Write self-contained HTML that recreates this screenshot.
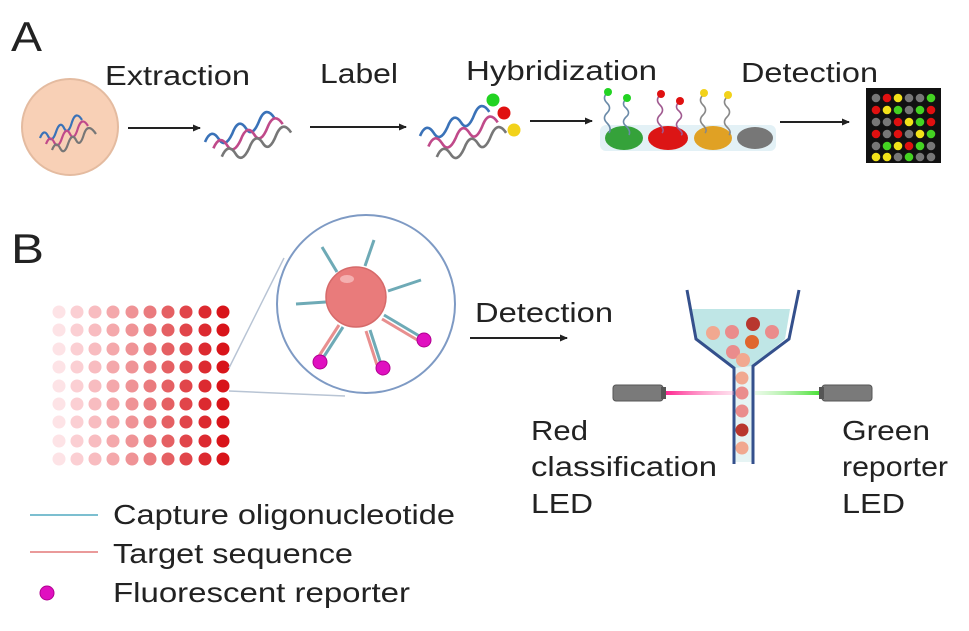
<!DOCTYPE html>
<html><head><meta charset="utf-8"><style>
html,body{margin:0;padding:0;background:#fff}
svg{display:block}
text{font-family:"Liberation Sans",Arial,sans-serif;fill:#222}
</style></head><body>
<svg width="969" height="631" viewBox="0 0 969 631" xmlns="http://www.w3.org/2000/svg">
<defs>
<marker id="ah" markerWidth="8" markerHeight="8" refX="7" refY="4" orient="auto" markerUnits="userSpaceOnUse"><path d="M0,0.5 L8,4 L0,7.5 z" fill="#222"/></marker>
<linearGradient id="lr" x1="0" x2="1"><stop offset="0" stop-color="#ff1e8c"/><stop offset="1" stop-color="#ff9ac8" stop-opacity="0.3"/></linearGradient>
<linearGradient id="lg" x1="0" x2="1"><stop offset="0" stop-color="#b8f0b0" stop-opacity="0.3"/><stop offset="1" stop-color="#44e030"/></linearGradient>
</defs>
<!-- Panel A -->
<text x="11" y="51" font-size="42" textLength="31" lengthAdjust="spacingAndGlyphs">A</text>
<text x="105" y="85" font-size="28" textLength="145" lengthAdjust="spacingAndGlyphs">Extraction</text>
<text x="320" y="83" font-size="28" textLength="78" lengthAdjust="spacingAndGlyphs">Label</text>
<text x="466" y="80" font-size="28" textLength="191" lengthAdjust="spacingAndGlyphs">Hybridization</text>
<text x="741" y="82" font-size="28" textLength="137" lengthAdjust="spacingAndGlyphs">Detection</text>

<circle cx="70" cy="127" r="48" fill="#f8d0b6" stroke="#e4bba0" stroke-width="2"/>
<g fill="none" stroke-width="2.2">
<path d="M40,138 q4,-10 8,-2 q4,8 8,-4 q4,-12 8,-4 q4,8 8,-6 q4,-12 10,-2" stroke="#3a72b8"/>
<path d="M46,144 q4,-10 8,-2 q4,8 8,-4 q4,-12 8,-4 q4,8 8,-6 q4,-12 10,-2" stroke="#c04a8a"/>
<path d="M52,150 q4,-10 8,-2 q4,8 8,-4 q4,-12 8,-4 q4,8 8,-6 q4,-12 12,0" stroke="#777"/>
</g>
<line x1="128" y1="128" x2="200" y2="128" stroke="#222" stroke-width="2" marker-end="url(#ah)"/>
<g fill="none" stroke-width="2.5" transform="translate(205,100) scale(1.05)">
<path d="M0,40 q6,-14 13,-3 q6,10 13,-5 q6,-16 13,-5 q6,10 13,-8 q6,-14 14,-2" stroke="#3a72b8"/>
<path d="M8,46 q6,-14 13,-3 q6,10 13,-5 q6,-16 13,-5 q6,10 13,-8 q6,-14 14,-2" stroke="#c04a8a"/>
<path d="M16,54 q6,-14 13,-3 q6,10 13,-5 q6,-16 13,-5 q6,10 13,-8 q6,-14 14,-2" stroke="#777"/>
</g>
<line x1="310" y1="127" x2="406" y2="127" stroke="#222" stroke-width="2" marker-end="url(#ah)"/>
<g fill="none" stroke-width="2.5" transform="translate(420,94) scale(1.05)">
<path d="M0,40 q6,-14 13,-3 q6,10 13,-5 q6,-16 13,-5 q6,10 13,-8 q6,-14 14,-2" stroke="#3a72b8"/>
<path d="M8,50 q6,-14 13,-3 q6,10 13,-5 q6,-16 13,-5 q6,10 13,-8 q6,-14 14,-2" stroke="#c04a8a"/>
<path d="M16,60 q6,-14 13,-3 q6,10 13,-5 q6,-16 13,-5 q6,10 13,-8 q6,-14 14,-2" stroke="#777"/>
</g>
<circle cx="493" cy="100" r="6.5" fill="#22d322"/>
<circle cx="504" cy="113" r="6.5" fill="#e01010"/>
<circle cx="514" cy="130" r="6.5" fill="#f2d21a"/>
<line x1="530" y1="121" x2="592" y2="121" stroke="#222" stroke-width="2" marker-end="url(#ah)"/>
<rect x="600" y="125" width="176" height="26" rx="6" fill="#e3f1f6"/>
<ellipse cx="624" cy="138" rx="19" ry="12" fill="#35a23a"/>
<ellipse cx="668" cy="138" rx="20" ry="12" fill="#dc1515"/>
<ellipse cx="713" cy="138" rx="19" ry="12" fill="#e0a124"/>
<ellipse cx="755" cy="138" rx="18" ry="11" fill="#777"/>
<g fill="none" stroke-width="1.6">
<path d="M607,93 q-5,5 0,10 q5,5 0,10 q-5,5 0,10 q5,5 2,10" stroke="#6a8aa8"/>
<path d="M626,99 q-5,5 0,9 q5,5 0,9 q-5,5 0,9 q5,5 3,9" stroke="#6a8aa8"/>
<path d="M660,95 q-5,5 0,10 q5,5 0,10 q-5,5 0,10 q5,5 2,8" stroke="#a05a90"/>
<path d="M679,102 q-5,5 0,9 q5,5 0,9 q-5,5 0,9 q5,5 2,6" stroke="#a05a90"/>
<path d="M703,95 q-5,5 0,10 q5,5 0,10 q-5,5 0,10 q5,5 2,8" stroke="#888"/>
<path d="M727,97 q-5,5 0,10 q5,5 0,10 q-5,5 0,10 q5,5 2,8" stroke="#888"/>
</g>
<circle cx="608" cy="92" r="4" fill="#22d322"/><circle cx="627" cy="98" r="4" fill="#22d322"/>
<circle cx="661" cy="94" r="4" fill="#e01010"/><circle cx="680" cy="101" r="4" fill="#e01010"/>
<circle cx="704" cy="93" r="4" fill="#f2d21a"/><circle cx="728" cy="95" r="4" fill="#f2d21a"/>
<line x1="780" y1="122" x2="849" y2="122" stroke="#222" stroke-width="2" marker-end="url(#ah)"/>
<rect x="866" y="88" width="75" height="75" fill="#111"/>
<g>
<circle cx="876" cy="98" r="4.3" fill="#777"/><circle cx="887" cy="98" r="4.3" fill="#e01010"/><circle cx="898" cy="98" r="4.3" fill="#f2e21a"/><circle cx="909" cy="98" r="4.3" fill="#777"/><circle cx="920" cy="98" r="4.3" fill="#777"/><circle cx="931" cy="98" r="4.3" fill="#44d322"/>
<circle cx="876" cy="110" r="4.3" fill="#e01010"/><circle cx="887" cy="110" r="4.3" fill="#f2e21a"/><circle cx="898" cy="110" r="4.3" fill="#44d322"/><circle cx="909" cy="110" r="4.3" fill="#777"/><circle cx="920" cy="110" r="4.3" fill="#44d322"/><circle cx="931" cy="110" r="4.3" fill="#e01010"/>
<circle cx="876" cy="122" r="4.3" fill="#777"/><circle cx="887" cy="122" r="4.3" fill="#777"/><circle cx="898" cy="122" r="4.3" fill="#e01010"/><circle cx="909" cy="122" r="4.3" fill="#f2e21a"/><circle cx="920" cy="122" r="4.3" fill="#44d322"/><circle cx="931" cy="122" r="4.3" fill="#e01010"/>
<circle cx="876" cy="134" r="4.3" fill="#e01010"/><circle cx="887" cy="134" r="4.3" fill="#777"/><circle cx="898" cy="134" r="4.3" fill="#e01010"/><circle cx="909" cy="134" r="4.3" fill="#777"/><circle cx="920" cy="134" r="4.3" fill="#f2e21a"/><circle cx="931" cy="134" r="4.3" fill="#44d322"/>
<circle cx="876" cy="146" r="4.3" fill="#777"/><circle cx="887" cy="146" r="4.3" fill="#44d322"/><circle cx="898" cy="146" r="4.3" fill="#f2e21a"/><circle cx="909" cy="146" r="4.3" fill="#e01010"/><circle cx="920" cy="146" r="4.3" fill="#44d322"/><circle cx="931" cy="146" r="4.3" fill="#777"/>
<circle cx="876" cy="157" r="4.3" fill="#f2e21a"/><circle cx="887" cy="157" r="4.3" fill="#f2e21a"/><circle cx="898" cy="157" r="4.3" fill="#777"/><circle cx="909" cy="157" r="4.3" fill="#44d322"/><circle cx="920" cy="157" r="4.3" fill="#777"/><circle cx="931" cy="157" r="4.3" fill="#777"/>
</g>

<!-- Panel B -->
<text x="11" y="263" font-size="42" textLength="33" lengthAdjust="spacingAndGlyphs">B</text>
<g>
<g fill="#fde3e6"><circle cx="59" cy="312" r="6.5"/><circle cx="59" cy="330" r="6.5"/><circle cx="59" cy="349" r="6.5"/><circle cx="59" cy="367" r="6.5"/><circle cx="59" cy="386" r="6.5"/><circle cx="59" cy="404" r="6.5"/><circle cx="59" cy="422" r="6.5"/><circle cx="59" cy="441" r="6.5"/><circle cx="59" cy="459" r="6.5"/></g>
<g fill="#fbcfd3"><circle cx="77" cy="312" r="6.5"/><circle cx="77" cy="330" r="6.5"/><circle cx="77" cy="349" r="6.5"/><circle cx="77" cy="367" r="6.5"/><circle cx="77" cy="386" r="6.5"/><circle cx="77" cy="404" r="6.5"/><circle cx="77" cy="422" r="6.5"/><circle cx="77" cy="441" r="6.5"/><circle cx="77" cy="459" r="6.5"/></g>
<g fill="#f8bcc0"><circle cx="95" cy="312" r="6.5"/><circle cx="95" cy="330" r="6.5"/><circle cx="95" cy="349" r="6.5"/><circle cx="95" cy="367" r="6.5"/><circle cx="95" cy="386" r="6.5"/><circle cx="95" cy="404" r="6.5"/><circle cx="95" cy="422" r="6.5"/><circle cx="95" cy="441" r="6.5"/><circle cx="95" cy="459" r="6.5"/></g>
<g fill="#f4a8ab"><circle cx="113" cy="312" r="6.5"/><circle cx="113" cy="330" r="6.5"/><circle cx="113" cy="349" r="6.5"/><circle cx="113" cy="367" r="6.5"/><circle cx="113" cy="386" r="6.5"/><circle cx="113" cy="404" r="6.5"/><circle cx="113" cy="422" r="6.5"/><circle cx="113" cy="441" r="6.5"/><circle cx="113" cy="459" r="6.5"/></g>
<g fill="#ef9396"><circle cx="132" cy="312" r="6.5"/><circle cx="132" cy="330" r="6.5"/><circle cx="132" cy="349" r="6.5"/><circle cx="132" cy="367" r="6.5"/><circle cx="132" cy="386" r="6.5"/><circle cx="132" cy="404" r="6.5"/><circle cx="132" cy="422" r="6.5"/><circle cx="132" cy="441" r="6.5"/><circle cx="132" cy="459" r="6.5"/></g>
<g fill="#ea7b7e"><circle cx="150" cy="312" r="6.5"/><circle cx="150" cy="330" r="6.5"/><circle cx="150" cy="349" r="6.5"/><circle cx="150" cy="367" r="6.5"/><circle cx="150" cy="386" r="6.5"/><circle cx="150" cy="404" r="6.5"/><circle cx="150" cy="422" r="6.5"/><circle cx="150" cy="441" r="6.5"/><circle cx="150" cy="459" r="6.5"/></g>
<g fill="#e56063"><circle cx="168" cy="312" r="6.5"/><circle cx="168" cy="330" r="6.5"/><circle cx="168" cy="349" r="6.5"/><circle cx="168" cy="367" r="6.5"/><circle cx="168" cy="386" r="6.5"/><circle cx="168" cy="404" r="6.5"/><circle cx="168" cy="422" r="6.5"/><circle cx="168" cy="441" r="6.5"/><circle cx="168" cy="459" r="6.5"/></g>
<g fill="#e1454a"><circle cx="186" cy="312" r="6.5"/><circle cx="186" cy="330" r="6.5"/><circle cx="186" cy="349" r="6.5"/><circle cx="186" cy="367" r="6.5"/><circle cx="186" cy="386" r="6.5"/><circle cx="186" cy="404" r="6.5"/><circle cx="186" cy="422" r="6.5"/><circle cx="186" cy="441" r="6.5"/><circle cx="186" cy="459" r="6.5"/></g>
<g fill="#dc2a30"><circle cx="205" cy="312" r="6.5"/><circle cx="205" cy="330" r="6.5"/><circle cx="205" cy="349" r="6.5"/><circle cx="205" cy="367" r="6.5"/><circle cx="205" cy="386" r="6.5"/><circle cx="205" cy="404" r="6.5"/><circle cx="205" cy="422" r="6.5"/><circle cx="205" cy="441" r="6.5"/><circle cx="205" cy="459" r="6.5"/></g>
<g fill="#d8141a"><circle cx="223" cy="312" r="6.5"/><circle cx="223" cy="330" r="6.5"/><circle cx="223" cy="349" r="6.5"/><circle cx="223" cy="367" r="6.5"/><circle cx="223" cy="386" r="6.5"/><circle cx="223" cy="404" r="6.5"/><circle cx="223" cy="422" r="6.5"/><circle cx="223" cy="441" r="6.5"/><circle cx="223" cy="459" r="6.5"/></g>
</g>
<line x1="229" y1="368" x2="284" y2="258" stroke="#b8c4d4" stroke-width="1.5"/>
<line x1="229" y1="391" x2="345" y2="396" stroke="#b8c4d4" stroke-width="1.5"/>
<circle cx="366" cy="304" r="89" fill="#fff" stroke="#7e9ac4" stroke-width="2"/>
<g stroke="#6eaab6" stroke-width="3">
<line x1="337" y1="272" x2="322" y2="247"/><line x1="365" y1="266" x2="374" y2="240"/>
<line x1="388" y1="291" x2="421" y2="280"/><line x1="326" y1="302" x2="296" y2="304"/>
</g>
<g stroke-width="3">
<line x1="384" y1="315" x2="421" y2="337" stroke="#6eaab6"/><line x1="382" y1="319" x2="419" y2="341" stroke="#e88f8f"/>
<line x1="343" y1="327" x2="323" y2="358" stroke="#6eaab6"/><line x1="339" y1="325" x2="319" y2="356" stroke="#e88f8f"/>
<line x1="370" y1="330" x2="381" y2="364" stroke="#6eaab6"/><line x1="366" y1="331" x2="377" y2="365" stroke="#e88f8f"/>
</g>
<circle cx="356" cy="297" r="30" fill="#e97b7b" stroke="#d66a6a" stroke-width="1.5"/>
<ellipse cx="347" cy="279" rx="7" ry="4" fill="#f4b0b0"/>
<circle cx="320" cy="362" r="7" fill="#e010c0" stroke="#b00090"/>
<circle cx="383" cy="368" r="7" fill="#e010c0" stroke="#b00090"/>
<circle cx="424" cy="340" r="7" fill="#e010c0" stroke="#b00090"/>

<text x="475" y="322" font-size="28" textLength="138" lengthAdjust="spacingAndGlyphs">Detection</text>
<line x1="470" y1="338" x2="567" y2="338" stroke="#222" stroke-width="2" marker-end="url(#ah)"/>

<!-- funnel -->
<path d="M692,309 L790,309 L785,339 L752,366 L752,462 L734,462 L734,368 L696,339 Z" fill="#bfe6e6"/>
<path d="M734,368 L752,366 L752,462 L734,462 Z" fill="#e6f4f4"/>
<g fill="none" stroke="#34508c" stroke-width="3">
<path d="M687,290 L696,339 L734,368 L734,464"/>
<path d="M799,290 L789,339 L753,366 L753,464"/>
</g>
<circle cx="713" cy="333" r="7" fill="#f1a890"/><circle cx="732" cy="332" r="7" fill="#ea8c8c"/>
<circle cx="753" cy="324" r="7" fill="#b8372e"/><circle cx="772" cy="332" r="7" fill="#ea8c8c"/>
<circle cx="752" cy="342" r="7" fill="#e0662e"/><circle cx="733" cy="352" r="7" fill="#ea8c8c"/>
<circle cx="743" cy="360" r="7" fill="#f1a890"/>
<circle cx="742" cy="378" r="6.5" fill="#f1a890"/><circle cx="742" cy="393" r="6.5" fill="#ea8c8c"/>
<circle cx="742" cy="411" r="6.5" fill="#ea8c8c"/><circle cx="742" cy="430" r="6.5" fill="#b8372e"/>
<circle cx="742" cy="448" r="6.5" fill="#f1a890"/>
<rect x="664" y="391" width="70" height="4" fill="url(#lr)"/>
<rect x="755" y="391" width="66" height="4" fill="url(#lg)"/>
<rect x="613" y="385" width="50" height="16" rx="3" fill="#7a7a7a" stroke="#555"/>
<rect x="661" y="387" width="5" height="12" fill="#555"/>
<rect x="822" y="385" width="50" height="16" rx="3" fill="#7a7a7a" stroke="#555"/>
<rect x="819" y="387" width="5" height="12" fill="#555"/>

<text x="531" y="440" font-size="28" textLength="57" lengthAdjust="spacingAndGlyphs">Red</text>
<text x="531" y="476" font-size="28" textLength="186" lengthAdjust="spacingAndGlyphs">classification</text>
<text x="531" y="513" font-size="28" textLength="62" lengthAdjust="spacingAndGlyphs">LED</text>
<text x="842" y="440" font-size="28" textLength="88" lengthAdjust="spacingAndGlyphs">Green</text>
<text x="842" y="476" font-size="28" textLength="106" lengthAdjust="spacingAndGlyphs">reporter</text>
<text x="842" y="513" font-size="28" textLength="63" lengthAdjust="spacingAndGlyphs">LED</text>

<!-- legend -->
<line x1="30" y1="515" x2="98" y2="515" stroke="#7cbfd0" stroke-width="2"/>
<line x1="30" y1="552" x2="98" y2="552" stroke="#ea9a9a" stroke-width="2"/>
<circle cx="47" cy="593" r="7" fill="#e010c0" stroke="#b00090"/>
<text x="113" y="524" font-size="28" textLength="342" lengthAdjust="spacingAndGlyphs">Capture oligonucleotide</text>
<text x="113" y="563" font-size="28" textLength="240" lengthAdjust="spacingAndGlyphs">Target sequence</text>
<text x="113" y="602" font-size="28" textLength="297" lengthAdjust="spacingAndGlyphs">Fluorescent reporter</text>
</svg>
</body></html>
